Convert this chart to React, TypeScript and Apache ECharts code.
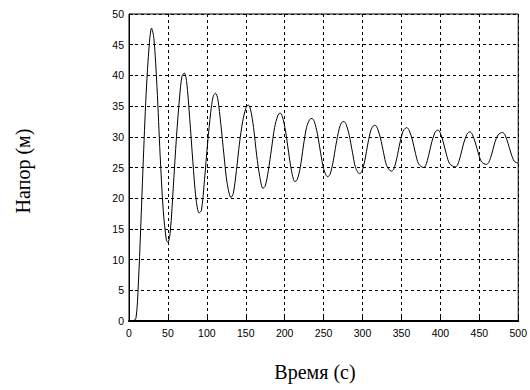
import React, { useEffect, useRef } from "react";
import * as echarts from "echarts";

const timeS = [
  0, 5, 9, 12, 15, 18, 22, 26, 29, 32, 36, 40, 44, 48, 50, 53, 57, 61, 65, 68, 71, 74, 78, 82, 86, 90, 93,
  97, 101, 105, 108, 111, 114, 118, 122, 126, 131, 134, 138, 142, 146, 150, 153, 156, 160, 164, 168, 172,
  175, 179, 183, 187, 191, 194, 197, 201, 205, 209, 213, 216, 220, 224, 228, 232, 235, 238, 242, 246, 250,
  255, 258, 262, 266, 270, 273, 276, 279, 283, 287, 291, 296, 299, 303, 307, 311, 314, 316, 319, 323, 327,
  331, 337, 340, 344, 348, 352, 355, 357, 360, 364, 368, 372, 378, 381, 385, 389, 393, 395, 397, 400, 404,
  408, 412, 419, 422, 426, 430, 434, 436, 438, 441, 445, 449, 453, 459, 462, 466, 470, 474, 477, 480, 483,
  487, 491, 495, 500,
];
const headM = [
  0, 0, 0.5, 6, 15, 25, 37, 45, 47.7, 46, 38, 27, 18, 13.2, 12.8, 14.5, 22, 30, 36.5, 39.8, 40.4, 39, 33,
  26, 20, 17.6, 18, 23, 29, 34, 36.5, 37.1, 36.2, 32, 27, 22.5, 20.1, 20.8, 24.5, 29, 32.5, 34.6, 35.2,
  34.5, 31.5, 27, 23.5, 21.6, 22, 24.5, 28, 31.5, 33.4, 33.9, 33.3, 31, 27.5, 24.3, 22.7, 23, 25, 28.5,
  31.5, 32.8, 33.0, 32.5, 30.5, 27.5, 24.8, 23.5, 23.8, 25.8, 28.8, 31.3, 32.3, 32.5, 32.0, 30.2, 27.5,
  25.0, 24.0, 24.3, 26.2, 29.0, 31.2, 31.8, 31.9, 31.4, 29.8, 27.4, 25.3, 24.4, 24.7, 26.5, 29.0, 30.9,
  31.4, 31.5, 31.0, 29.5, 27.3, 25.6, 25.0, 25.3, 27.0, 29.2, 30.7, 31.0, 31.1, 30.6, 29.0, 27.0, 25.6,
  25.1, 25.4, 27.0, 29.0, 30.4, 30.7, 30.8, 30.4, 29.0, 27.2, 25.9, 25.5, 25.8, 27.2, 29.1, 30.3, 30.6,
  30.7, 30.3, 28.9, 27.2, 26.0, 25.7,
];

const xLabel = "Время (с)";
const yLabel = "Напор (м)";

export default function App() {
  const ref = useRef<HTMLDivElement>(null);
  useEffect(() => {
    if (!ref.current) return;
    const chart = echarts.init(ref.current, null, { renderer: "svg" });
    const data = timeS.map((t, i) => [t, headM[i]]);
    const splitStyle = { show: true, lineStyle: { color: "#000", width: 1, type: [3, 3] as number[] } };
    chart.setOption({
      animation: false,
      backgroundColor: "#fff",
      grid: {
        left: 129,
        right: 10,
        top: 14,
        bottom: 69,
        show: true,
        borderColor: "#000",
        borderWidth: 1,
        backgroundColor: "transparent",
      },
      xAxis: {
        type: "value",
        min: 0,
        max: 500,
        interval: 50,
        axisLine: { show: true, lineStyle: { color: "#000", width: 2 } },
        axisTick: { show: true, inside: true, length: 4, lineStyle: { color: "#000" } },
        axisLabel: { color: "#000", fontFamily: "Liberation Sans, Arial", fontSize: 10.5, margin: 6 },
        splitLine: splitStyle,
      },
      yAxis: {
        type: "value",
        min: 0,
        max: 50,
        interval: 5,
        axisLine: { show: true, lineStyle: { color: "#000", width: 1 } },
        axisTick: { show: true, inside: true, length: 4, lineStyle: { color: "#000" } },
        axisLabel: { color: "#000", fontFamily: "Liberation Sans, Arial", fontSize: 10.5, margin: 5 },
        splitLine: splitStyle,
      },
      graphic: [
        {
          type: "text",
          x: 315,
          y: 372,
          style: {
            text: xLabel,
            fill: "#000",
            font: "20px 'Liberation Serif', 'Times New Roman', serif",
            textAlign: "center",
            textVerticalAlign: "middle",
          },
        },
        {
          type: "text",
          x: 23,
          y: 171,
          rotation: Math.PI / 2,
          style: {
            text: yLabel,
            fill: "#000",
            font: "20px 'Liberation Serif', 'Times New Roman', serif",
            textAlign: "center",
            textVerticalAlign: "middle",
          },
        },
      ],
      series: [
        {
          type: "line",
          data,
          showSymbol: false,
          smooth: 0.3,
          lineStyle: { color: "#000", width: 1 },
          z: 5,
        },
      ],
    });
    return () => chart.dispose();
  }, []);
  return <div ref={ref} style={{ position: "fixed", left: 0, top: 0, width: 530, height: 390 }} />;
}
